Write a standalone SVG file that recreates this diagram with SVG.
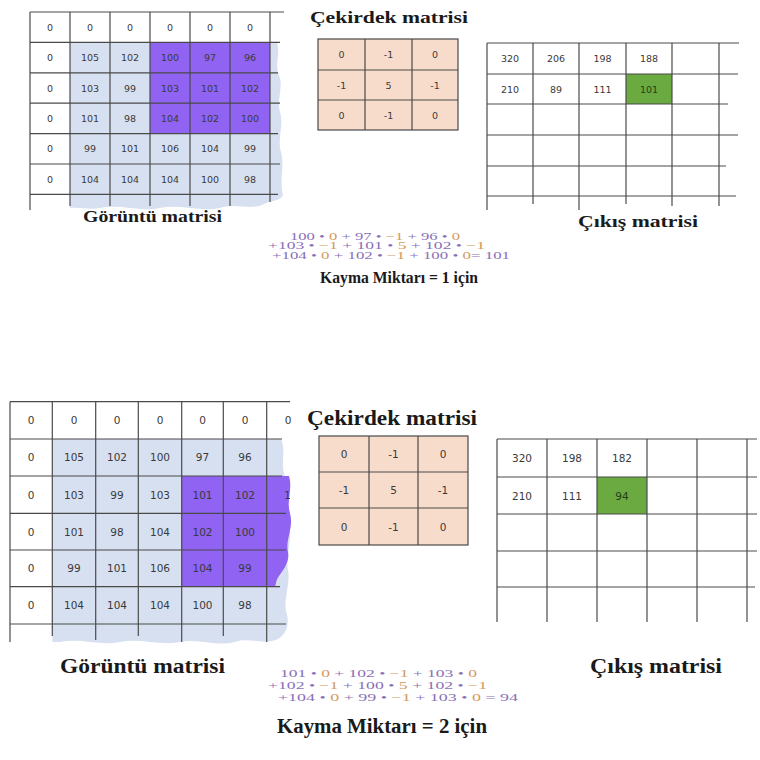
<svg xmlns="http://www.w3.org/2000/svg" width="760" height="760" viewBox="0 0 760 760">
<style>
.grid{stroke:#4a4a4a;stroke-width:1.2;fill:none}
.c1{font-family:"DejaVu Sans",Verdana,sans-serif;font-size:9.5px;fill:#3a3a3a;text-anchor:middle}
.c2{font-family:"DejaVu Sans",Verdana,sans-serif;font-size:10.5px;fill:#3a3a3a;text-anchor:middle}
.t1{font-family:"Liberation Serif","DejaVu Serif","Times New Roman",serif;font-weight:bold;font-size:17px;fill:#1a1a1a}
.t2{font-family:"Liberation Serif","DejaVu Serif","Times New Roman",serif;font-weight:bold;font-size:20px;fill:#1a1a1a}
.f{font-family:"Liberation Serif","DejaVu Serif","Times New Roman",serif;font-size:10.5px;fill:#8a70b8}
.k{fill:#d39a5e}
.blue{fill:#d7e0f1}
.purple{fill:#9063f2}
.kern{fill:#f8dccb;stroke:#4a4a4a;stroke-width:1.2}
.green{fill:#6aaa40}
</style>
<defs>
<clipPath id="clipB"><rect x="0" y="390" width="290" height="260"/></clipPath>
</defs>

<!-- ===== TOP: shift 1 ===== -->
<g id="image-matrix-1">
<path class="blue" d="M70,42.4 H277 C281,55 274,62 279,75 C284,88 276,100 280,112 C284,125 277,140 281,152 C285,165 279,180 283,195 C280,202 270,200 262,205 C250,210 235,203 220,208 C200,212 180,204 160,208 C140,212 120,204 100,208 C90,210 80,207 70,208 Z"/>
<rect class="purple" x="150" y="42.4" width="120" height="91.2"/>
<g class="grid">
<line x1="30" y1="12" x2="284" y2="12"/>
<line x1="30" y1="42.4" x2="280" y2="42.4"/>
<line x1="30" y1="72.8" x2="278" y2="72.8"/>
<line x1="30" y1="103.2" x2="280" y2="103.2"/>
<line x1="30" y1="133.6" x2="278" y2="133.6"/>
<line x1="30" y1="164" x2="280" y2="164"/>
<line x1="30" y1="194.4" x2="278" y2="194.4"/>
<line x1="30" y1="12" x2="30" y2="210"/>
<line x1="70" y1="12" x2="70" y2="206"/>
<line x1="110" y1="12" x2="110" y2="206"/>
<line x1="150" y1="12" x2="150" y2="206"/>
<line x1="190" y1="12" x2="190" y2="206"/>
<line x1="230" y1="12" x2="230" y2="206"/>
<line x1="270" y1="12" x2="270" y2="202"/>
</g>
<g class="c1">
<text x="50" y="30.7">0</text><text x="90" y="30.7">0</text><text x="130" y="30.7">0</text><text x="170" y="30.7">0</text><text x="210" y="30.7">0</text><text x="250" y="30.7">0</text>
<text x="50" y="61.1">0</text><text x="90" y="61.1">105</text><text x="130" y="61.1">102</text><text x="170" y="61.1">100</text><text x="210" y="61.1">97</text><text x="250" y="61.1">96</text>
<text x="50" y="91.5">0</text><text x="90" y="91.5">103</text><text x="130" y="91.5">99</text><text x="170" y="91.5">103</text><text x="210" y="91.5">101</text><text x="250" y="91.5">102</text>
<text x="50" y="121.9">0</text><text x="90" y="121.9">101</text><text x="130" y="121.9">98</text><text x="170" y="121.9">104</text><text x="210" y="121.9">102</text><text x="250" y="121.9">100</text>
<text x="50" y="152.3">0</text><text x="90" y="152.3">99</text><text x="130" y="152.3">101</text><text x="170" y="152.3">106</text><text x="210" y="152.3">104</text><text x="250" y="152.3">99</text>
<text x="50" y="182.7">0</text><text x="90" y="182.7">104</text><text x="130" y="182.7">104</text><text x="170" y="182.7">104</text><text x="210" y="182.7">100</text><text x="250" y="182.7">98</text>
</g>
<text class="t1" x="83" y="222" textLength="139" lengthAdjust="spacingAndGlyphs">Görüntü matrisi</text>
</g>

<g id="kernel-1">
<text class="t1" x="310" y="23" textLength="158" lengthAdjust="spacingAndGlyphs">Çekirdek matrisi</text>
<rect class="kern" x="318" y="39" width="140" height="91"/>
<g class="grid">
<line x1="365" y1="39" x2="365" y2="130"/>
<line x1="412" y1="39" x2="412" y2="130"/>
<line x1="318" y1="70" x2="458" y2="70"/>
<line x1="318" y1="100" x2="458" y2="100"/>
</g>
<g class="c1">
<text x="341.5" y="58">0</text><text x="388.5" y="58">-1</text><text x="435" y="58">0</text>
<text x="341.5" y="88.5">-1</text><text x="388.5" y="88.5">5</text><text x="435" y="88.5">-1</text>
<text x="341.5" y="118.5">0</text><text x="388.5" y="118.5">-1</text><text x="435" y="118.5">0</text>
</g>
</g>

<g id="output-matrix-1">
<rect class="green" x="626" y="74" width="46" height="30"/>
<g class="grid">
<line x1="487" y1="43" x2="739" y2="43"/>
<line x1="487" y1="74" x2="738" y2="74"/>
<line x1="487" y1="104" x2="728" y2="104"/>
<line x1="487" y1="135" x2="738" y2="135"/>
<line x1="487" y1="166" x2="726" y2="166"/>
<line x1="487" y1="196" x2="736" y2="196"/>
<line x1="487" y1="43" x2="487" y2="210"/>
<line x1="533" y1="43" x2="533" y2="204"/>
<line x1="579" y1="43" x2="579" y2="210"/>
<line x1="626" y1="43" x2="626" y2="204"/>
<line x1="672" y1="43" x2="672" y2="206"/>
<line x1="719" y1="43" x2="719" y2="206"/>
</g>
<g class="c1">
<text x="510" y="62">320</text><text x="556" y="62">206</text><text x="602.5" y="62">198</text><text x="649" y="62">188</text>
<text x="510" y="92.5">210</text><text x="556" y="92.5">89</text><text x="602.5" y="92.5">111</text><text x="649" y="92.5" fill="#23401a">101</text>
</g>
<text class="t1" x="578" y="227" textLength="120" lengthAdjust="spacingAndGlyphs">Çıkış matrisi</text>
</g>

<g id="formula-1">
<text class="f" x="290" y="239.5" textLength="170" lengthAdjust="spacingAndGlyphs">100 • <tspan class="k">0</tspan> + 97 • <tspan class="k">−1</tspan> + 96 • <tspan class="k">0</tspan></text>
<text class="f" x="268" y="249" textLength="217" lengthAdjust="spacingAndGlyphs">+103 • <tspan class="k">−1</tspan> + 101 • <tspan class="k">5</tspan> + 102 • <tspan class="k">−1</tspan></text>
<text class="f" x="272" y="258.5" textLength="238" lengthAdjust="spacingAndGlyphs">+104 • <tspan class="k">0</tspan> + 102 • <tspan class="k">−1</tspan> + 100 • <tspan class="k">0</tspan>= 101</text>
<text class="t1" x="320" y="283" textLength="158" lengthAdjust="spacingAndGlyphs">Kayma Miktarı =  1 için</text>
</g>

<!-- ===== BOTTOM: shift 2 ===== -->
<g id="image-matrix-2">
<path class="blue" d="M52.3,439 H281 C287,452 279,465 286,478 C292,495 284,510 289,525 C293,540 285,555 288,570 C291,585 282,600 287,615 C290,628 284,636 276,640 C260,645 250,637 235,642 C215,647 200,638 180,642 C160,646 140,638 120,642 C100,646 80,638 60,642 L52.3,642 Z"/>
<path class="purple" d="M181.7,476 H289 C293,490 286,500 290,513 C294,528 285,540 288,552 C290,562 283,570 279,576 C276,580 276,584 275,586.7 H181.7 Z"/>
<g class="grid">
<line x1="10" y1="401.7" x2="290" y2="401.7"/>
<line x1="10" y1="439" x2="282" y2="439"/>
<line x1="10" y1="476" x2="282" y2="476"/>
<line x1="10" y1="513.3" x2="286" y2="513.3"/>
<line x1="10" y1="550" x2="286" y2="550"/>
<line x1="10" y1="586.7" x2="280" y2="586.7"/>
<line x1="10" y1="624" x2="286" y2="624"/>
<line x1="10" y1="401.7" x2="10" y2="642"/>
<line x1="52.3" y1="401.7" x2="52.3" y2="636"/>
<line x1="95.7" y1="401.7" x2="95.7" y2="640"/>
<line x1="138.3" y1="401.7" x2="138.3" y2="636"/>
<line x1="181.7" y1="401.7" x2="181.7" y2="642"/>
<line x1="223.3" y1="401.7" x2="223.3" y2="636"/>
<line x1="266.7" y1="401.7" x2="266.7" y2="642"/>
</g>
<g class="c2">
<text x="31" y="424">0</text><text x="74" y="424">0</text><text x="117" y="424">0</text><text x="160" y="424">0</text><text x="202.5" y="424">0</text><text x="245" y="424">0</text><text x="288" y="424">0</text>
<text x="31" y="461.3">0</text><text x="74" y="461.3">105</text><text x="117" y="461.3">102</text><text x="160" y="461.3">100</text><text x="202.5" y="461.3">97</text><text x="245" y="461.3">96</text>
<text x="31" y="498.5">0</text><text x="74" y="498.5">103</text><text x="117" y="498.5">99</text><text x="160" y="498.5">103</text><text x="202.5" y="498.5">101</text><text x="245" y="498.5">102</text>
<text x="31" y="535.5">0</text><text x="74" y="535.5">101</text><text x="117" y="535.5">98</text><text x="160" y="535.5">104</text><text x="202.5" y="535.5">102</text><text x="245" y="535.5">100</text>
<text x="31" y="572">0</text><text x="74" y="572">99</text><text x="117" y="572">101</text><text x="160" y="572">106</text><text x="202.5" y="572">104</text><text x="245" y="572">99</text>
<text x="31" y="609">0</text><text x="74" y="609">104</text><text x="117" y="609">104</text><text x="160" y="609">104</text><text x="202.5" y="609">100</text><text x="245" y="609">98</text>
<g clip-path="url(#clipB)">
<text x="291" y="498.5">10</text><text x="293" y="535.5">1</text><text x="293" y="609">1</text>
</g>
</g>
<text class="t2" x="60" y="673" textLength="165" lengthAdjust="spacingAndGlyphs">Görüntü matrisi</text>
</g>

<g id="kernel-2">
<text class="t2" x="307" y="425" textLength="170" lengthAdjust="spacingAndGlyphs">Çekirdek matrisi</text>
<rect class="kern" x="319" y="436" width="149" height="109"/>
<g class="grid">
<line x1="369" y1="436" x2="369" y2="545"/>
<line x1="418" y1="436" x2="418" y2="545"/>
<line x1="319" y1="472" x2="468" y2="472"/>
<line x1="319" y1="508" x2="468" y2="508"/>
</g>
<g class="c2">
<text x="344" y="458">0</text><text x="393.5" y="458">-1</text><text x="443" y="458">0</text>
<text x="344" y="494">-1</text><text x="393.5" y="494">5</text><text x="443" y="494">-1</text>
<text x="344" y="530.5">0</text><text x="393.5" y="530.5">-1</text><text x="443" y="530.5">0</text>
</g>
</g>

<g id="output-matrix-2">
<rect class="green" x="597" y="477" width="50" height="37"/>
<g class="grid">
<line x1="497" y1="439" x2="757" y2="439"/>
<line x1="497" y1="477" x2="757" y2="477"/>
<line x1="497" y1="514" x2="757" y2="514"/>
<line x1="497" y1="551" x2="757" y2="551"/>
<line x1="497" y1="587" x2="755" y2="587"/>
<line x1="497" y1="439" x2="497" y2="622"/>
<line x1="547" y1="439" x2="547" y2="622"/>
<line x1="597" y1="439" x2="597" y2="622"/>
<line x1="647" y1="439" x2="647" y2="622"/>
<line x1="697" y1="439" x2="697" y2="622"/>
<line x1="747" y1="439" x2="747" y2="622"/>
</g>
<g class="c2">
<text x="522" y="462">320</text><text x="572" y="462">198</text><text x="622" y="462">182</text>
<text x="522" y="499.5">210</text><text x="572" y="499.5">111</text><text x="622" y="499.5" fill="#23401a">94</text>
</g>
<text class="t2" x="590" y="673" textLength="132" lengthAdjust="spacingAndGlyphs">Çıkış matrisi</text>
</g>

<g id="formula-2">
<text class="f" x="280" y="676.5" textLength="197" lengthAdjust="spacingAndGlyphs" font-size="11.5">101 • <tspan class="k">0</tspan> + 102 • <tspan class="k">−1</tspan> + 103 • <tspan class="k">0</tspan></text>
<text class="f" x="268" y="688.5" textLength="219" lengthAdjust="spacingAndGlyphs" font-size="11.5">+102 • <tspan class="k">−1</tspan> + 100 • <tspan class="k">5</tspan> + 102 • <tspan class="k">−1</tspan></text>
<text class="f" x="278" y="700.5" textLength="240" lengthAdjust="spacingAndGlyphs" font-size="11.5">+104 • <tspan class="k">0</tspan> + 99 • <tspan class="k">−1</tspan> + 103 • <tspan class="k">0</tspan>  = 94</text>
<text class="t2" x="277" y="733" textLength="210" lengthAdjust="spacingAndGlyphs">Kayma Miktarı = 2 için</text>
</g>
</svg>
